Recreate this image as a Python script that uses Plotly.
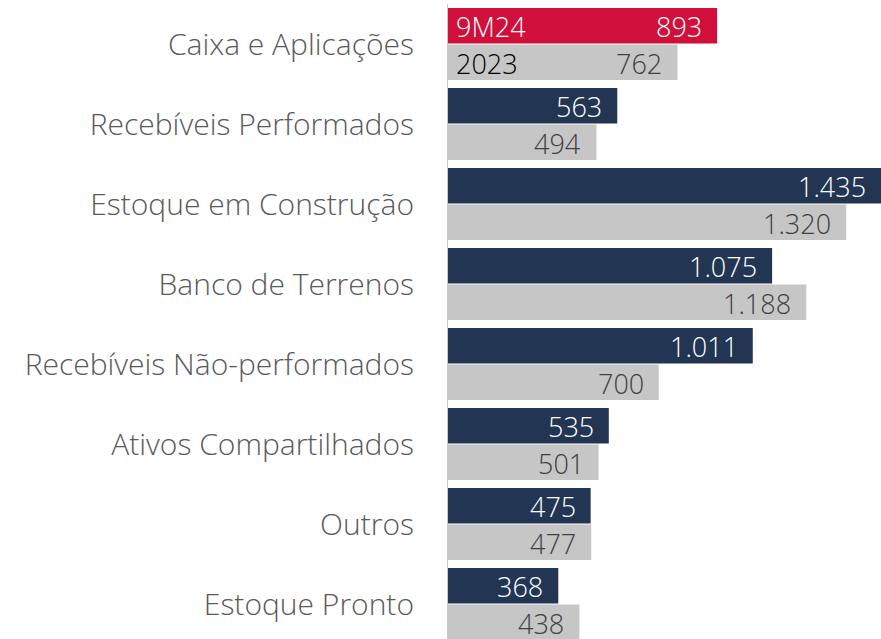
import plotly.graph_objects as go

categories = ["Caixa e Aplicações", "Recebíveis Performados", "Estoque em Construção",
              "Banco de Terrenos", "Recebíveis Não-performados", "Ativos Compartilhados",
              "Outros", "Estoque Pronto"]
values_9m24 = [893, 563, 1435, 1075, 1011, 535, 475, 368]
values_2023 = [762, 494, 1320, 1188, 700, 501, 477, 438]
series_names = ["9M24", "2023"]

RED = "#D0103A"
NAVY = "#223552"
GRAY = "#C6C6C6"
FONT = "Open Sans"

def fmt(v):
    return f"{v:,}".replace(",", ".")

fig = go.Figure()
fig.add_trace(go.Bar(
    y=categories, x=values_9m24, orientation="h", name=series_names[0],
    marker=dict(color=[RED] + [NAVY] * (len(categories) - 1), line=dict(width=0)),
    hoverinfo="skip",
))
fig.add_trace(go.Bar(
    y=categories, x=values_2023, orientation="h", name=series_names[1],
    marker=dict(color=GRAY, line=dict(width=0)),
    hoverinfo="skip",
))

bargap = 0.085
bargroupgap = 0.03
slot = (1 - bargap) / 2
off = slot / 2

VAL_SIZE = 27
W = 350
annotations = []
for i, (a, b) in enumerate(zip(values_9m24, values_2023)):
    annotations.append(dict(x=a, y=i - off, xref="x", yref="y", text=fmt(a),
                            xanchor="right", yanchor="middle", xshift=-13, yshift=-1, showarrow=False,
                            font=dict(family=FONT, size=VAL_SIZE, color="white", weight=W)))
    annotations.append(dict(x=b, y=i + off, xref="x", yref="y", text=fmt(b),
                            xanchor="right", yanchor="middle", xshift=-13, yshift=-1, showarrow=False,
                            font=dict(family=FONT, size=VAL_SIZE, color="#404040", weight=W)))
annotations.append(dict(x=0, y=0 - off, xref="x", yref="y", text=series_names[0],
                        xanchor="left", yanchor="middle", xshift=7, yshift=-1, showarrow=False,
                        font=dict(family=FONT, size=VAL_SIZE, color="white", weight=W)))
annotations.append(dict(x=0, y=0 + off, xref="x", yref="y", text=series_names[1],
                        xanchor="left", yanchor="middle", xshift=7, yshift=-1, showarrow=False,
                        font=dict(family=FONT, size=VAL_SIZE, color="black", weight=W)))

fig.update_layout(
    width=881, height=639,
    margin=dict(l=447, r=0, t=4, b=0, autoexpand=False),
    paper_bgcolor="white", plot_bgcolor="white",
    barmode="group", bargap=bargap, bargroupgap=bargroupgap,
    showlegend=False,
    annotations=annotations,
    xaxis=dict(range=[0, 1435], visible=False, fixedrange=True),
    yaxis=dict(range=[len(categories) - 0.5625, -0.5], showgrid=False, zeroline=False,
               showline=False, ticks="", ticklabelstandoff=32, fixedrange=True,
               tickfont=dict(family=FONT, size=30, color="#595959", weight=W)),
    shapes=[dict(type="line", xref="x", yref="paper", x0=0, x1=0, y0=0, y1=1,
                 line=dict(color="#C8C8C8", width=2))],
)

fig.write_html("out.html", config={"responsive": False, "displayModeBar": False},
               post_script="document.body.style.margin='0';document.body.style.overflow='hidden';")
